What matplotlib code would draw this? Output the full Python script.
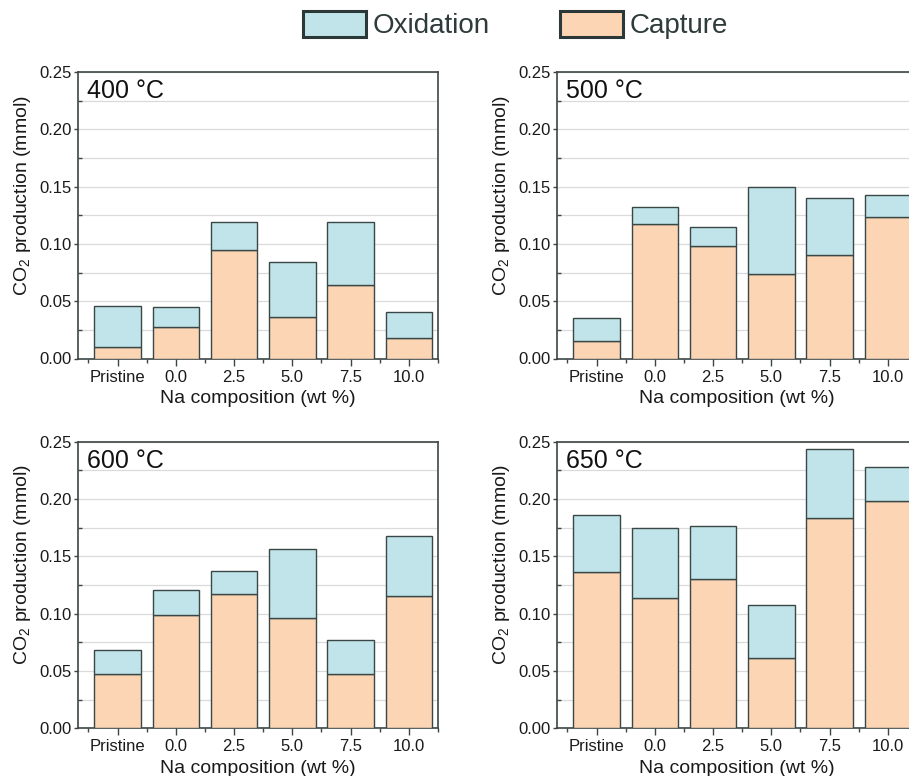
import matplotlib
matplotlib.use("Agg")
import matplotlib.pyplot as plt
from matplotlib.patches import Patch
from matplotlib.ticker import MultipleLocator, FixedLocator
import numpy as np

plt.rcParams['font.family'] = ['Liberation Sans', 'DejaVu Sans']
plt.rcParams['mathtext.fontset'] = 'custom'
plt.rcParams['mathtext.rm'] = 'Liberation Sans'

categories = ["Pristine", "0.0", "2.5", "5.0", "7.5", "10.0"]
temperatures = ["400 °C", "500 °C", "600 °C", "650 °C"]

capture_400 = [0.0102, 0.0277, 0.0947, 0.0361, 0.0641, 0.0178]
total_400 = [0.0457, 0.0446, 0.1189, 0.0845, 0.1192, 0.0402]

capture_500 = [0.0154, 0.1171, 0.0979, 0.0734, 0.0900, 0.1238]
total_500 = [0.0355, 0.1326, 0.1151, 0.1495, 0.1399, 0.1425]

capture_600 = [0.0477, 0.0985, 0.1174, 0.0962, 0.0471, 0.1151]
total_600 = [0.0686, 0.1203, 0.1372, 0.1561, 0.0773, 0.1680]

capture_650 = [0.1366, 0.1137, 0.1299, 0.0610, 0.1831, 0.1980]
total_650 = [0.1858, 0.1744, 0.1762, 0.1073, 0.2436, 0.2282]

captures = [capture_400, capture_500, capture_600, capture_650]
totals = [total_400, total_500, total_600, total_650]

ox_color = "#c0e4e9"
cap_color = "#fcd5b5"
edge_color = "#3a4747"
spine_color = "#3c4646"
grid_color = "#dadada"

W, H = 909, 776
fig = plt.figure(figsize=(W / 100, H / 100), dpi=100)

ax_w, ax_h = 360, 286.5
positions = [(78, 72), (557, 72), (78, 441.7), (557, 441.7)]  # left, top in px

x = np.arange(len(categories))
for i, (lpx, tpx) in enumerate(positions):
    ax = fig.add_axes([lpx / W, 1 - (tpx + ax_h) / H, ax_w / W, ax_h / H])
    cap = np.array(captures[i])
    tot = np.array(totals[i])
    ax.bar(x, cap, width=0.8, color=cap_color, edgecolor=edge_color, linewidth=1.0, zorder=3)
    ax.bar(x, tot - cap, bottom=cap, width=0.8, color=ox_color, edgecolor=edge_color,
           linewidth=1.0, zorder=3)
    ax.set_xlim(-0.68, 5.5)
    ax.set_ylim(0, 0.25)
    ax.yaxis.set_minor_locator(MultipleLocator(0.025))
    ax.set_yticks(np.arange(0, 0.2501, 0.05))
    ax.set_yticklabels([f"{v:.2f}" for v in np.arange(0, 0.2501, 0.05)])
    ax.set_xticks(x)
    ax.set_xticklabels(categories)
    ax.xaxis.set_minor_locator(FixedLocator(np.arange(-0.5, 5.6, 1.0)))
    ax.grid(axis='y', which='both', color=grid_color, linewidth=0.9, zorder=0)
    ax.set_axisbelow(True)
    for s in ax.spines.values():
        s.set_color(spine_color)
        s.set_linewidth(1.2)
    ax.tick_params(axis='y', which='major', direction='out', length=3, width=1,
                   color=spine_color, labelsize=12, pad=1.5, labelcolor='#1a1a1a')
    ax.tick_params(axis='y', which='minor', direction='in', length=3, width=1,
                   color=spine_color)
    ax.tick_params(axis='x', which='major', direction='out', length=5, width=1,
                   color=spine_color, labelsize=12, pad=3, labelcolor='#1a1a1a')
    ax.tick_params(axis='x', which='minor', direction='out', length=3, width=1,
                   color=spine_color)
    ax.set_ylabel("CO$_\\mathregular{2}$ production (mmol)", fontsize=14, color='#1a1a1a')
    ax.yaxis.set_label_coords(-0.125, 0.57)
    ax.set_xlabel("Na composition (wt %)", fontsize=14, labelpad=4, color='#1a1a1a')
    ax.text(0.025, 0.975, temperatures[i], transform=ax.transAxes, fontsize=18,
            va='top', ha='left', color='#111111', zorder=5)

handles = [Patch(facecolor=ox_color, edgecolor='#2c3838', linewidth=2.2, label="Oxidation"),
           Patch(facecolor=cap_color, edgecolor='#2c3838', linewidth=2.2, label="Capture")]
leg = fig.legend(handles=handles, loc='center', bbox_to_anchor=(0.567, 0.968), ncol=2,
                 frameon=False, fontsize=20, handlelength=2.27, handleheight=1.08,
                 handletextpad=0.25, columnspacing=2.5, borderpad=0)
for t in leg.get_texts():
    t.set_color('#2f3b3b')

fig.savefig("out.png", dpi=100)
